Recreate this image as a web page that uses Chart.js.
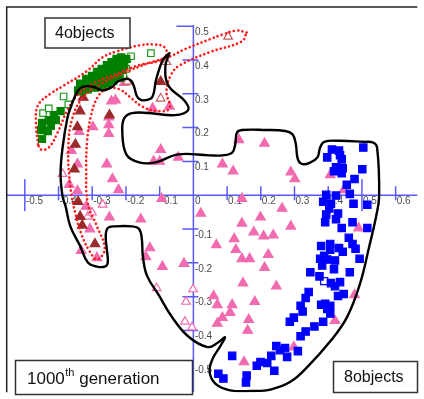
<!DOCTYPE html>
<html>
<head>
<meta charset="utf-8">
<script src="https://cdn.jsdelivr.net/npm/chart.js@4"></script>
<style>
  body { margin: 0; background: #fff; }
  canvas { display: block; }
</style>
</head>
<body>
<canvas id="grafico" width="424" height="399"></canvas>
<script>
// tick values of the centred axes
const xTicks = [-0.5, -0.4, -0.3, -0.2, -0.1, 0, 0.1, 0.2, 0.3, 0.4, 0.5, 0.6];
const yTicks = [0.5, 0.4, 0.3, 0.2, 0.1, -0.1, -0.2, -0.3, -0.4, -0.5];

// 4objects (green squares)
const greenFilled = [
  [-0.449, 0.214], [-0.429, 0.222], [-0.408, 0.222], [-0.394, 0.249], [-0.414, 0.237],
  [-0.432, 0.190], [-0.452, 0.193], [-0.449, 0.167], [-0.423, 0.205],
  [-0.336, 0.330], [-0.318, 0.344], [-0.301, 0.353], [-0.286, 0.365], [-0.272, 0.374],
  [-0.257, 0.385], [-0.243, 0.394], [-0.228, 0.403], [-0.214, 0.408],
  [-0.342, 0.310], [-0.324, 0.318], [-0.307, 0.327], [-0.292, 0.333], [-0.278, 0.342],
  [-0.260, 0.350], [-0.246, 0.359], [-0.231, 0.368], [-0.219, 0.379], [-0.205, 0.385],
  [-0.313, 0.336], [-0.266, 0.362], [-0.237, 0.379], [-0.199, 0.403],
  [-0.330, 0.307], [-0.313, 0.313], [-0.292, 0.318], [-0.272, 0.324], [-0.254, 0.330],
  [-0.237, 0.339], [-0.219, 0.347], [-0.225, 0.362], [-0.211, 0.371], [-0.251, 0.368],
  [-0.283, 0.353]
];
const greenOpen = [
  [-0.228, 0.400], [-0.208, 0.400], [-0.196, 0.403], [-0.185, 0.411], [-0.199, 0.374],
  [-0.208, 0.356], [-0.240, 0.344], [-0.126, 0.420],
  [-0.446, 0.243], [-0.429, 0.257], [-0.385, 0.292], [-0.371, 0.269]
];

// triangles
const maroonFilled = [
  [-0.327, 0.289], [-0.336, 0.249], [-0.344, 0.202], [-0.350, 0.150], [-0.353, 0.077],
  [-0.249, 0.237], [-0.097, 0.336], [-0.342, -0.019], [-0.336, -0.063], [-0.330, -0.089],
  [-0.292, -0.144]
];
const maroonOpen = [
  [-0.196, 0.336], [-0.097, 0.286], [-0.080, 0.394], [0.103, 0.469]
];
const pinkFilled = [
  [-0.231, 0.281], [-0.243, 0.278], [-0.205, 0.333], [-0.251, 0.231], [-0.251, 0.208],
  [-0.251, 0.182], [-0.298, 0.202], [-0.339, 0.188], [-0.121, 0.257], [-0.071, 0.263],
  [-0.118, 0.100], [-0.100, 0.100], [-0.097, 0.135], [-0.045, 0.112], [-0.362, 0.132],
  [-0.344, 0.092], [-0.257, 0.092], [-0.240, 0.048], [-0.222, 0.016], [-0.368, 0.031],
  [-0.344, 0.013], [-0.318, -0.033], [-0.307, -0.100], [-0.249, -0.065], [-0.156, -0.071],
  [-0.129, -0.156], [-0.141, -0.182], [-0.092, -0.211], [-0.028, -0.202], [0.022, -0.054],
  [-0.333, -0.164], [-0.286, -0.185], [-0.094, -0.010],
  [0.086, 0.092], [0.118, 0.071], [0.135, 0.164], [0.211, 0.153], [0.289, 0.068],
  [0.301, 0.048], [0.406, 0.060], [0.446, 0.016], [0.144, -0.010], [0.144, -0.083],
  [0.199, -0.065], [0.263, -0.039], [0.289, -0.092], [0.179, -0.109], [0.208, -0.121],
  [0.237, -0.118], [0.121, -0.129], [0.068, -0.147], [0.126, -0.161], [0.144, -0.188],
  [0.167, -0.188], [0.222, -0.176], [0.211, -0.214], [0.147, -0.260], [0.246, -0.269],
  [0.060, -0.298], [0.071, -0.324], [0.115, -0.324], [0.182, -0.315], [0.109, -0.347],
  [0.086, -0.362], [0.071, -0.379], [0.164, -0.368], [0.161, -0.400], [0.490, -0.097],
  [0.478, -0.295], [0.420, -0.371], [0.298, -0.449], [0.150, -0.493]
];
const pinkOpen = [
  [-0.388, 0.063], [-0.269, -0.028], [-0.313, -0.063], [-0.301, -0.051], [-0.109, -0.275],
  [-0.001, -0.278], [-0.022, -0.315], [-0.025, -0.374], [-0.004, -0.391]
];

// 8objects (blue squares)
const blueFilled = [
  [0.411, 0.135], [0.432, 0.132], [0.435, 0.118], [0.397, 0.112], [0.440, 0.106],
  [0.504, 0.141], [0.423, 0.083], [0.443, 0.080], [0.417, 0.071], [0.440, 0.065],
  [0.501, 0.077], [0.478, 0.048], [0.455, 0.031], [0.464, 0.004], [0.394, 0.001],
  [0.423, -0.001], [0.385, -0.019], [0.408, -0.025], [0.475, -0.025], [0.516, -0.028],
  [0.403, -0.039], [0.394, -0.057], [0.429, -0.054], [0.423, -0.071], [0.472, -0.080],
  [0.391, -0.080], [0.440, -0.097], [0.516, -0.097], [0.461, -0.126], [0.472, -0.144],
  [0.481, -0.158], [0.493, -0.188], [0.379, -0.150], [0.406, -0.144], [0.406, -0.161],
  [0.432, -0.156], [0.443, -0.167], [0.388, -0.179], [0.376, -0.188], [0.397, -0.190],
  [0.420, -0.193], [0.382, -0.208], [0.417, -0.219], [0.464, -0.228], [0.347, -0.228],
  [0.374, -0.240], [0.408, -0.260], [0.435, -0.257], [0.420, -0.269], [0.446, -0.292],
  [0.429, -0.298], [0.342, -0.286], [0.333, -0.304], [0.379, -0.324], [0.391, -0.321],
  [0.406, -0.327], [0.397, -0.336], [0.406, -0.350], [0.318, -0.327], [0.324, -0.344],
  [0.298, -0.362], [0.286, -0.374], [0.385, -0.374], [0.359, -0.388], [0.333, -0.403],
  [0.318, -0.417], [0.246, -0.446], [0.257, -0.458], [0.272, -0.452], [0.278, -0.478],
  [0.310, -0.461], [0.231, -0.475], [0.199, -0.493], [0.188, -0.504], [0.219, -0.496],
  [0.240, -0.519], [0.158, -0.533], [0.156, -0.554], [0.115, -0.475], [0.074, -0.528],
  [0.089, -0.542]
];
const blueOpen = [[0.388, -0.254]];

// hand drawn outlines (closed loops, in axis units)
const outlineBlack = [
  [-0.071, 0.420], [-0.083, 0.382], [-0.074, 0.324], [-0.025, 0.278], [-0.016, 0.251],
  [-0.054, 0.237], [-0.132, 0.243], [-0.182, 0.243], [-0.205, 0.228], [-0.211, 0.190],
  [-0.199, 0.121], [-0.161, 0.097], [-0.112, 0.097], [-0.045, 0.121], [0.048, 0.118],
  [0.086, 0.118], [0.115, 0.126], [0.124, 0.150], [0.129, 0.185], [0.144, 0.193],
  [0.214, 0.193], [0.272, 0.190], [0.295, 0.179], [0.304, 0.150], [0.310, 0.106],
  [0.324, 0.092], [0.347, 0.097], [0.368, 0.112], [0.376, 0.141], [0.388, 0.158],
  [0.435, 0.161], [0.504, 0.158], [0.533, 0.156], [0.545, 0.141], [0.551, -0.004],
  [0.542, -0.063], [0.522, -0.150], [0.493, -0.266], [0.455, -0.362], [0.406, -0.432],
  [0.339, -0.507], [0.289, -0.551], [0.231, -0.574], [0.173, -0.579], [0.109, -0.577],
  [0.065, -0.557], [0.048, -0.522], [0.057, -0.484], [0.080, -0.446], [0.094, -0.420],
  [0.074, -0.435], [0.042, -0.449], [-0.016, -0.417], [-0.065, -0.358], [-0.103, -0.295],
  [-0.138, -0.237], [-0.150, -0.179], [-0.153, -0.129], [-0.161, -0.100], [-0.182, -0.092],
  [-0.234, -0.092], [-0.254, -0.097], [-0.260, -0.121], [-0.257, -0.158], [-0.254, -0.199],
  [-0.263, -0.211], [-0.286, -0.211], [-0.313, -0.199], [-0.336, -0.150], [-0.365, -0.092],
  [-0.379, -0.033], [-0.388, -0.004], [-0.394, 0.063], [-0.388, 0.141], [-0.374, 0.228],
  [-0.365, 0.257], [-0.344, 0.307], [-0.327, 0.321], [-0.298, 0.321], [-0.269, 0.310],
  [-0.240, 0.321], [-0.225, 0.336], [-0.199, 0.344], [-0.185, 0.339], [-0.176, 0.321],
  [-0.167, 0.292], [-0.153, 0.281], [-0.126, 0.286], [-0.118, 0.301], [-0.112, 0.336],
  [-0.103, 0.368], [-0.089, 0.403], [-0.071, 0.420]
];
const outlineGreen = [
  [-0.461, 0.150], [-0.467, 0.214], [-0.461, 0.266], [-0.423, 0.301], [-0.385, 0.324],
  [-0.315, 0.368], [-0.269, 0.408], [-0.225, 0.426], [-0.161, 0.443], [-0.118, 0.446],
  [-0.086, 0.438], [-0.080, 0.414], [-0.103, 0.397], [-0.161, 0.385], [-0.234, 0.356],
  [-0.292, 0.333], [-0.342, 0.298], [-0.374, 0.251], [-0.403, 0.185], [-0.429, 0.141],
  [-0.452, 0.135], [-0.461, 0.150]
];
const outlineRibbon = [
  [0.158, 0.481], [0.129, 0.487], [0.086, 0.475], [0.048, 0.461], [-0.025, 0.432],
  [-0.068, 0.411], [-0.132, 0.391], [-0.205, 0.362], [-0.278, 0.327], [-0.330, 0.286],
  [-0.359, 0.228], [-0.371, 0.141], [-0.365, 0.025], [-0.350, -0.054], [-0.330, -0.121],
  [-0.307, -0.167], [-0.286, -0.190], [-0.263, -0.158], [-0.286, -0.092], [-0.313, -0.025],
  [-0.318, 0.074], [-0.315, 0.161], [-0.304, 0.234], [-0.283, 0.292], [-0.254, 0.316],
  [-0.219, 0.313], [-0.190, 0.292], [-0.153, 0.263], [-0.109, 0.249], [-0.071, 0.257],
  [-0.080, 0.307], [-0.065, 0.359], [-0.039, 0.385], [0.048, 0.423], [0.144, 0.455],
  [0.158, 0.481]
];

// converte pares [x, y] em pontos do Chart.js
function pontos(lista) {
  return lista.map(p => ({ x: p[0], y: p[1] }));
}

function contorno(lista, cor, pontilhado) {
  return {
    data: pontos(lista),
    showLine: true,
    tension: 0.4,
    pointRadius: 0,
    borderColor: cor,
    borderWidth: pontilhado ? 2.6 : 2.4,
    borderDash: pontilhado ? [0.1, 4.2] : [],
    borderCapStyle: 'round',
    fill: false
  };
}

function marcas(lista, estilo, cor, fundo, raio) {
  return {
    data: pontos(lista),
    pointStyle: estilo,
    pointRadius: raio,
    pointBackgroundColor: fundo,
    pointBorderColor: cor,
    pointBorderWidth: 1.2
  };
}

const PINK = '#f26aaf';
const MAROON = '#9b2a2c';
const GREEN = '#008000';
const BLUE = '#0000ff';
const AXIS = 'rgba(70, 70, 255, 0.9)';

// eixos no centro, caixas de texto e moldura
const decoracao = {
  id: 'decoracao',
  beforeDatasetsDraw(chart) {
    const ctx = chart.ctx;
    const area = chart.chartArea;
    const sx = chart.scales.x, sy = chart.scales.y;
    const ox = sx.getPixelForValue(0), oy = sy.getPixelForValue(0);
    ctx.save();
    ctx.strokeStyle = AXIS;
    ctx.lineWidth = 1.5;
    ctx.beginPath();
    ctx.moveTo(area.left, oy); ctx.lineTo(area.right, oy);
    ctx.moveTo(ox, area.top + 18); ctx.lineTo(ox, area.bottom);
    xTicks.forEach(v => {
      if (v === 0) return;
      const px = sx.getPixelForValue(v);
      const longo = Math.abs(v) === 0.5;
      ctx.moveTo(px, oy - (longo ? 16 : 9));
      ctx.lineTo(px, oy + (longo ? 16 : 5));
    });
    yTicks.forEach(v => {
      const py = sy.getPixelForValue(v);
      const longo = Math.abs(v) === 0.5;
      ctx.moveTo(ox - (longo ? 17 : 11), py);
      ctx.lineTo(ox + (longo ? 0 : 5), py);
    });
    ctx.stroke();

    ctx.fillStyle = '#4a4a4a';
    ctx.font = '10px "Liberation Sans Narrow", "Liberation Sans", sans-serif';
    ctx.textBaseline = 'top';
    ctx.textAlign = 'left';
    xTicks.forEach(v => {
      const px = sx.getPixelForValue(v);
      ctx.fillText(String(v), px + (v === 0 ? 1.5 : 1), oy + 1);
    });
    yTicks.forEach(v => {
      const py = sy.getPixelForValue(v);
      ctx.fillText(String(v), ox + 1.5, py + 1);
    });
    ctx.restore();
  },
  afterDatasetsDraw(chart) {
    const ctx = chart.ctx;
    const area = chart.chartArea;
    ctx.save();
    // moldura (so topo e esquerda aparecem)
    ctx.strokeStyle = '#222';
    ctx.lineWidth = 1.5;
    ctx.beginPath();
    ctx.moveTo(area.left, area.bottom);
    ctx.lineTo(area.left, area.top);
    ctx.lineTo(area.right, area.top);
    ctx.stroke();

    function caixa(x, y, w, h) {
      ctx.fillStyle = '#fff';
      ctx.fillRect(x, y, w, h);
      ctx.strokeStyle = '#333';
      ctx.lineWidth = 1.5;
      ctx.strokeRect(x, y, w, h);
    }
    ctx.textBaseline = 'alphabetic';

    caixa(45, 18, 85, 30);
    ctx.fillStyle = '#111';
    ctx.font = '16px "Liberation Sans", sans-serif';
    ctx.fillText('4objects', 55, 38);

    caixa(333.5, 361.5, 84, 31);
    ctx.fillStyle = '#111';
    ctx.fillText('8objects', 344, 382);

    caixa(15.5, 360.5, 177, 34);
    ctx.fillStyle = '#111';
    ctx.font = '17px "Liberation Sans", sans-serif';
    ctx.fillText('1000', 27, 384);
    const w = ctx.measureText('1000').width;
    ctx.font = '11px "Liberation Sans", sans-serif';
    ctx.fillText('th', 27 + w + 0.5, 376);
    const w2 = ctx.measureText('th').width;
    ctx.font = '17px "Liberation Sans", sans-serif';
    ctx.fillText(' generation', 27 + w + w2 + 0.5, 384);
    ctx.restore();
  }
};

const ctx = document.getElementById('grafico').getContext('2d');
const grafico = new Chart(ctx, {
  type: 'scatter',
  data: {
    datasets: [
      contorno(outlineBlack, '#000', false),
      contorno(outlineGreen, '#ff1a1a', true),
      contorno(outlineRibbon, '#ff1a1a', true),
      marcas(greenFilled, 'rect', GREEN, GREEN, 5),
      marcas(greenOpen, 'rect', '#1a9a1a', '#fff', 4.6),
      marcas(blueFilled, 'rect', BLUE, BLUE, 5.2),
      marcas(blueOpen, 'rect', BLUE, '#fff', 5),
      marcas(maroonFilled, 'triangle', MAROON, MAROON, 5.5),
      marcas(maroonOpen, 'triangle', '#c0605f', '#fff', 5),
      marcas(pinkFilled, 'triangle', PINK, PINK, 5.5),
      marcas(pinkOpen, 'triangle', PINK, '#fff', 5)
    ]
  },
  options: {
    responsive: false,
    animation: false,
    devicePixelRatio: 1,
    layout: { padding: { left: 5, top: 7, right: 0, bottom: 0 } },
    plugins: { legend: { display: false }, tooltip: { enabled: false } },
    scales: {
      x: { type: 'linear', display: false, min: -0.5538, max: 0.6642 },
      y: { type: 'linear', display: false, min: -0.5828, max: 0.5567 }
    }
  },
  plugins: [decoracao]
});
</script>
</body>
</html>
